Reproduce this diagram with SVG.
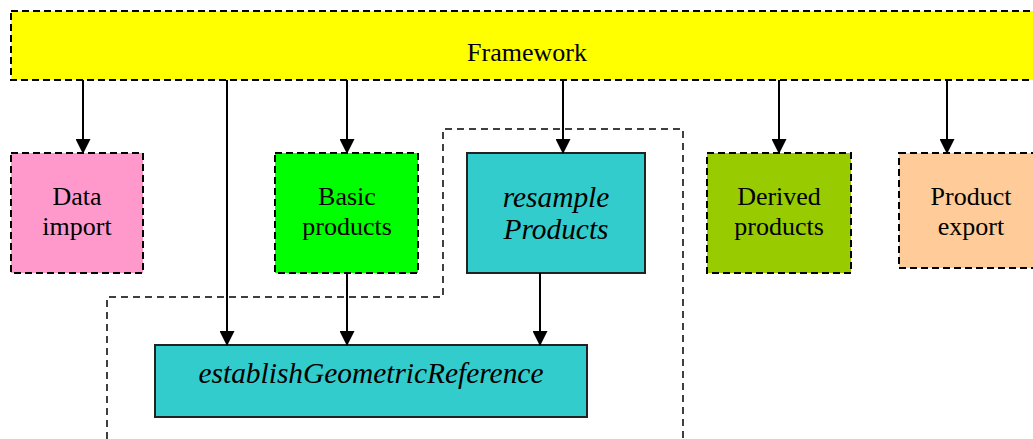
<svg xmlns="http://www.w3.org/2000/svg" width="1033" height="439" viewBox="0 0 1033 439">
<style>
.dash{stroke:#000;stroke-width:2;stroke-dasharray:7,4;}
.solid{stroke:#222;stroke-width:2;}
text{font-family:'Liberation Serif','Times New Roman','DejaVu Serif',serif;fill:#000;text-anchor:middle;}
.t{font-size:26px;}
.ti{font-size:29.4px;font-style:italic;}
.c{stroke:#000;stroke-width:2;fill:none;}
.region{stroke:#000;stroke-width:1.5;stroke-dasharray:7,5;fill:none;}
</style>
<defs>
<marker id="ah" markerWidth="15" markerHeight="15" refX="14" refY="7.5" orient="auto" markerUnits="userSpaceOnUse">
<path d="M0,0 L15,7.5 L0,15 Z" fill="#000"/>
</marker>
</defs>
<rect width="1033" height="439" fill="#fff"/>
<g id="region">
<path class="region" d="M107,439 L107,297 L443,297 L443,129 L683,129 L683,439"/>
</g>
<g id="framework">
<rect class="dash" x="11" y="11" width="1030" height="69" fill="#FFFF00"/>
<text class="t" x="527" y="61">Framework</text>
</g>
<g id="data-import">
<rect class="dash" x="11" y="153" width="132" height="120" fill="#FF99CC"/>
<text class="t" x="77" y="205">Data</text>
<text class="t" x="77" y="235">import</text>
</g>
<g id="basic-products">
<rect class="dash" x="275" y="153" width="143" height="120" fill="#00FF00"/>
<text class="t" x="347" y="205">Basic</text>
<text class="t" x="347" y="235">products</text>
</g>
<g id="resample-products">
<rect class="solid" x="467" y="153" width="178" height="120" fill="#33CCCC"/>
<text class="ti" x="556" y="207">resample</text>
<text class="ti" x="556" y="239">Products</text>
</g>
<g id="derived-products">
<rect class="dash" x="707" y="153" width="144" height="120" fill="#99CC00"/>
<text class="t" x="779" y="205">Derived</text>
<text class="t" x="779" y="235">products</text>
</g>
<g id="product-export">
<rect class="dash" x="899" y="153" width="144" height="115" fill="#FFCC99"/>
<text class="t" x="971" y="205">Product</text>
<text class="t" x="971" y="235">export</text>
</g>
<g id="establish">
<rect class="solid" x="155" y="345" width="432" height="72" fill="#33CCCC"/>
<text class="ti" x="371" y="383">establishGeometricReference</text>
</g>
<g id="connectors">
<line class="c" x1="83" y1="80" x2="83" y2="153" marker-end="url(#ah)"/>
<line class="c" x1="227" y1="80" x2="227" y2="345" marker-end="url(#ah)"/>
<line class="c" x1="347" y1="80" x2="347" y2="153" marker-end="url(#ah)"/>
<line class="c" x1="563" y1="80" x2="563" y2="153" marker-end="url(#ah)"/>
<line class="c" x1="779" y1="80" x2="779" y2="153" marker-end="url(#ah)"/>
<line class="c" x1="947" y1="80" x2="947" y2="153" marker-end="url(#ah)"/>
<line class="c" x1="347" y1="273" x2="347" y2="345" marker-end="url(#ah)"/>
<line class="c" x1="540" y1="273" x2="540" y2="345" marker-end="url(#ah)"/>
</g>
</svg>
